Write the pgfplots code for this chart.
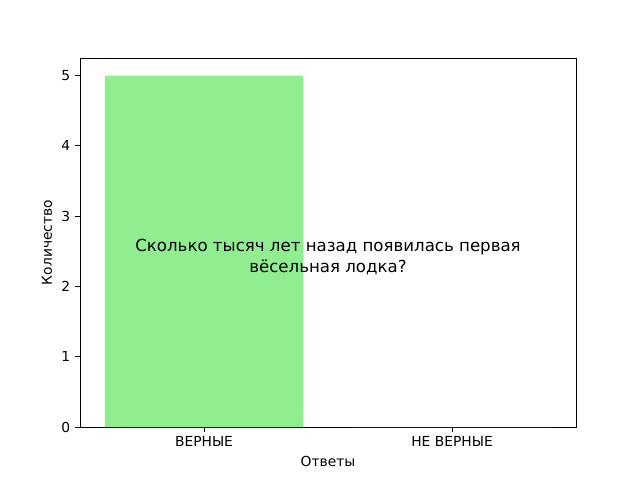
\documentclass[border=0pt]{standalone}
\usepackage{pgfplots}
\pgfplotsset{compat=1.18}
\usepackage{fontspec}
\setmainfont{DejaVu Sans}
\definecolor{lgreen}{HTML}{90EE90}
\begin{document}
\begin{tikzpicture}
\begin{axis}[
  scale only axis,
  width=4.96in, height=3.69in,
  xmin=-0.5, xmax=1.5,
  ymin=0, ymax=5.25,
  xtick={0,1},
  xticklabels={ВЕРНЫЕ,НЕ ВЕРНЫЕ},
  ytick={0,1,2,3,4,5},
  /pgf/number format/assume math mode=true,
  tick label style={font=\fontsize{10}{12}\selectfont},
  label style={font=\fontsize{10}{12}\selectfont},
  xlabel={Ответы},
  ylabel={Количество},
  tick align=outside,
  tick pos=left,
  major tick length=3.5pt,
  axis line style={line width=0.6pt},
  every tick/.style={line width=0.6pt, black},
  clip=false,
]
\addplot[ybar, bar width=0.8, fill=lgreen, draw=none, bar shift=0pt] coordinates {(0,5) (1,0)};
\node[align=center, font=\fontsize{12}{15}\selectfont] at (axis cs:0.5,2.42) {Сколько тысяч лет назад появилась первая\\вёсельная лодка?};
\path (axis description cs:-0.1613,-0.1436) rectangle (axis description cs:1.129,1.1572);
\end{axis}
\end{tikzpicture}
\end{document}
